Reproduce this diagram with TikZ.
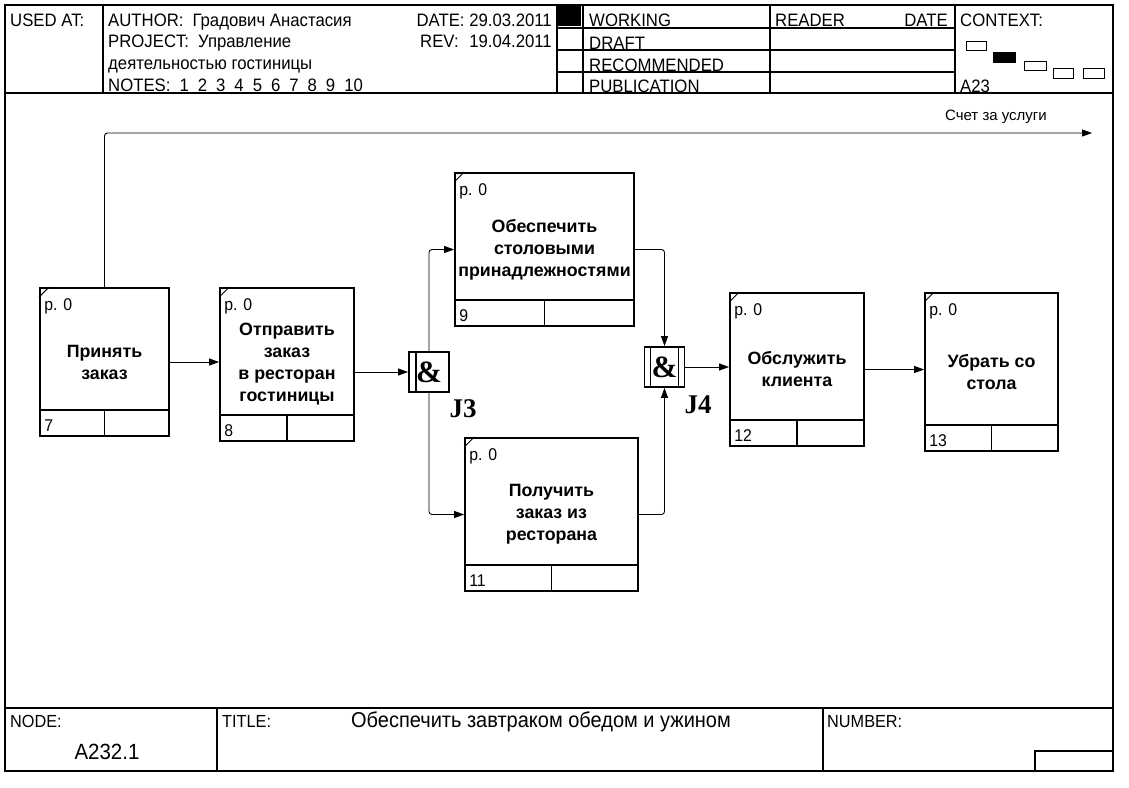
\documentclass[tikz,border=0pt]{standalone}
\usepackage{fontspec}
\setmainfont{Liberation Sans}
\newfontfamily\narrowfont[FakeStretch=0.93]{Liberation Sans}
\newfontfamily\serifbold{Liberation Serif}
\usetikzlibrary{positioning,arrows.meta}

\begin{document}
\begin{tikzpicture}[x=1pt,y=-1pt,
  act/.style={draw,line width=1.8pt,inner sep=0pt,align=center,font=\bfseries\fontsize{17.8}{22}\selectfont},
  junc/.style={draw,line width=1.8pt,minimum size=40pt,inner sep=0pt,font=\serifbold\bfseries\fontsize{31}{31}\selectfont},
  jlabel/.style={inner sep=0pt,font=\serifbold\bfseries\fontsize{27}{27}\selectfont},
  hdr/.style={anchor=base west,inner sep=0pt,font=\narrowfont\fontsize{18}{18}\selectfont},
  small/.style={anchor=base west,inner sep=0pt,font=\narrowfont\fontsize{17}{17}\selectfont},
  flow/.style={-{Triangle[length=10pt,width=7pt]},line width=0.9pt,rounded corners=3pt},
  frame/.style={line width=1.1pt}]

\useasboundingbox (0,0) rectangle (1129,787);

% form
\draw[frame] (5,5) rectangle (1113,771);
\draw[frame] (5,93) -- (1113,93) (5,708) -- (1113,708);
\draw[frame] (103,5) -- (103,93) (557,5) -- (557,93) (583,5) -- (583,93)
  (770,5) -- (770,93) (955,5) -- (955,93);
\draw[frame] (557,28) -- (955,28) (557,50) -- (955,50) (557,72) -- (955,72);
\draw[frame] (217,708) -- (217,771) (823,708) -- (823,771) (1035,771) |- (1113,751);
\fill (558,6) rectangle (581,26);
\draw (966,41) rectangle (986,50) (1024,61) rectangle (1046,70)
  (1053,68) rectangle (1073,78) (1083,68) rectangle (1104,78);
\fill (993,52) rectangle (1016,63);

% header
\node[hdr] (usedat) at (10,27) {USED AT:};
\node[hdr] (author) at (108,26) {AUTHOR:\enspace Градович Анастасия};
\node[hdr] (project) at (108,47) {PROJECT:\enspace Управление};
\node[hdr] (project2) at (108,69) {деятельностью гостиницы};
\node[hdr] (notes) at (108,91) {NOTES:\enspace 1\enspace 2\enspace 3\enspace 4\enspace 5\enspace 6\enspace 7\enspace 8\enspace 9\enspace 10};
\node[hdr,anchor=base east] (date) at (552,26) {DATE: 29.03.2011};
\node[hdr] (rev) at (420,47) {REV:};
\node[hdr,anchor=base east] (revval) at (552,47) {19.04.2011};
\node[hdr] (working) at (589,27) {WORKING};
\node[hdr] (draft) at (589,49) {DRAFT};
\node[hdr] (recom) at (589,71) {RECOMMENDED};
\node[hdr] (publ) at (589,92) {PUBLICATION};
\node[hdr] (reader) at (775,27) {READER};
\node[hdr,anchor=base east] (rdate) at (948,27) {DATE};
\node[hdr] (context) at (960,27) {CONTEXT:};
\node[hdr] (ctxnode) at (960,92) {A23};

% footer
\node[hdr,font=\narrowfont\fontsize{17.5}{17.5}\selectfont] (nodelbl) at (10,727) {NODE:};
\node[hdr,font=\narrowfont\fontsize{17.5}{17.5}\selectfont] (titlelbl) at (222,727) {TITLE:};
\node[hdr,font=\narrowfont\fontsize{17.5}{17.5}\selectfont] (numlbl) at (827,727) {NUMBER:};
\node[inner sep=0pt,font=\narrowfont\fontsize{22}{22}\selectfont] (nodeval) at (107,752) {A232.1};
\node[inner sep=0pt,font=\narrowfont\fontsize{21.5}{21.5}\selectfont] (title) at (541,722) {Обеспечить завтраком обедом и ужином};

% activities
\node[act,minimum width=129pt,minimum height=148pt] (B7) at (104.5,362) {Принять\\заказ};
\node[act,minimum width=134pt,minimum height=153pt] (B8) at (287,364.5) {Отправить\\заказ\\в ресторан\\гостиницы};
\node[act,minimum width=179pt,minimum height=153pt] (B9) at (544.5,249.5) {Обеспечить\\столовыми\\принадлежностями};
\node[act,minimum width=173pt,minimum height=153pt] (B11) at (551.5,514.5) {Получить\\заказ из\\ресторана};
\node[act,minimum width=134pt,minimum height=153pt] (B12) at (797,369.5) {Обслужить\\клиента};
\node[act,minimum width=133pt,minimum height=158pt] (B13) at (991.5,372) {Убрать со\\стола};
\foreach \b/\n in {B7/7,B8/8,B9/9,B11/11,B12/12,B13/13}{
  \draw[line width=1.8pt] ([yshift=27pt]\b.south west) -- ([yshift=27pt]\b.south east);
  \draw[line width=1.8pt] (\b.south) -- ([yshift=27pt]\b.south);
  \draw[line width=1pt] ([yshift=-10pt]\b.north west) -- ([xshift=10pt]\b.north west);
  \node[small] (\b-num) at ([xshift=5pt,yshift=5pt]\b.south west) {\n};
  \node[small] (\b-p) at ([xshift=5pt,yshift=-23pt]\b.north west) {p. 0};
}

% junctions
\node[junc] (J3) at (429,372) {\&};
\node[junc] (J4) at (664.5,367) {\&};
\draw[line width=1.5pt] ([xshift=8pt]J3.north west) -- ([xshift=8pt]J3.south west);
\draw[line width=1.5pt] ([xshift=7pt]J4.north west) -- ([xshift=7pt]J4.south west)
  ([xshift=-7pt]J4.north east) -- ([xshift=-7pt]J4.south east);
\node[jlabel] (J3l) at (463,409) {J3};
\node[jlabel] (J4l) at (698,405) {J4};

% arrows
\coordinate (Bill) at (1092,133);
\draw[flow] (B7.north) |- (Bill);
\node[inner sep=0pt,font=\fontsize{15}{15}\selectfont] (billlbl) at (996,117) {Счет за услуги};
\draw[flow] (B7.east) -- (B7.east -| B8.west);
\draw[flow] (J3.west -| B8.east) -- (J3.west);
\draw[flow] (J3.north) |- (B9.west);
\draw[flow] (J3.south) |- (B11.west);
\draw[flow] (B9.east) -| (J4.north);
\draw[flow] (B11.east) -| (J4.south);
\draw[flow] (J4.east) -- (J4.east -| B12.west);
\draw[flow] (B12.east) -- (B12.east -| B13.west);
\end{tikzpicture}
\end{document}
